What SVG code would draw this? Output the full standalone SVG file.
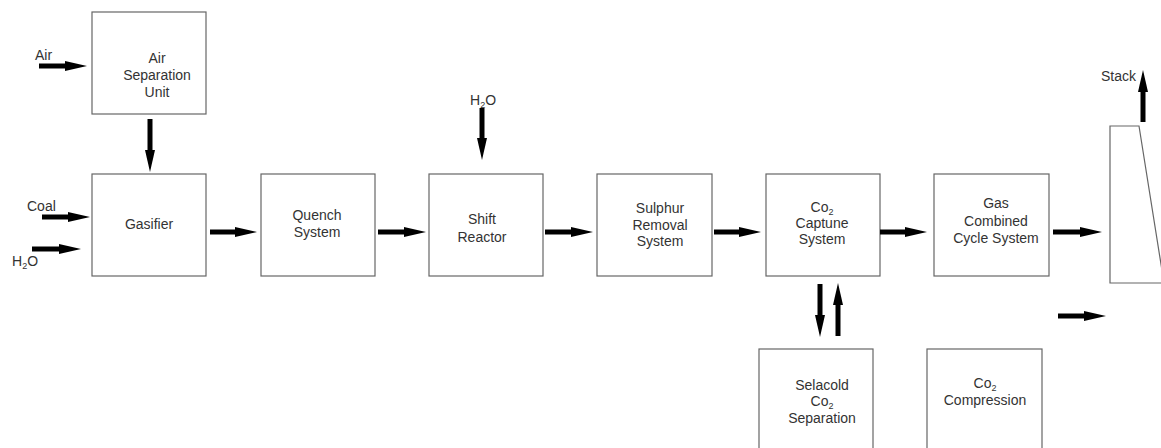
<svg xmlns="http://www.w3.org/2000/svg" width="1161" height="448" viewBox="0 0 1161 448">
<style>
  .box{fill:#fff;stroke:#666;stroke-width:1.2}
  text{font-family:"Liberation Sans",Arial,sans-serif;font-size:14px;fill:#333}
  .c{text-anchor:middle}
  .sub{font-size:9px}
  .arr{stroke:#000;stroke-width:5;fill:none;marker-end:url(#ah)}
</style>
<defs>
  <marker id="ah" markerUnits="userSpaceOnUse" markerWidth="22" markerHeight="10" refX="0" refY="5" orient="auto">
    <path d="M0,0 L22,5 L0,10 Z" fill="#000"/>
  </marker>
</defs>
<rect width="1161" height="448" fill="#fff"/>

<g id="asu">
  <rect class="box" x="92" y="12" width="114" height="102"/>
  <text class="c" x="157" y="63">Air</text>
  <text class="c" x="157" y="80">Separation</text>
  <text class="c" x="157" y="97">Unit</text>
</g>
<g id="gasifier">
  <rect class="box" x="92" y="174" width="114" height="102"/>
  <text class="c" x="149" y="229">Gasifier</text>
</g>
<g id="quench">
  <rect class="box" x="261" y="174" width="114" height="102"/>
  <text class="c" x="317" y="220">Quench</text>
  <text class="c" x="317" y="237">System</text>
</g>
<g id="shift">
  <rect class="box" x="429" y="174" width="114" height="102"/>
  <text class="c" x="482" y="224">Shift</text>
  <text class="c" x="482" y="242">Reactor</text>
</g>
<g id="sulphur">
  <rect class="box" x="597" y="174" width="115" height="102"/>
  <text class="c" x="660" y="213">Sulphur</text>
  <text class="c" x="660" y="230">Removal</text>
  <text class="c" x="660" y="246">System</text>
</g>
<g id="co2capture">
  <rect class="box" x="766" y="174" width="114" height="102"/>
  <text class="c" x="822" y="212">Co<tspan class="sub" dy="3">2</tspan></text>
  <text class="c" x="822" y="228">Captune</text>
  <text class="c" x="822" y="244">System</text>
</g>
<g id="gascc">
  <rect class="box" x="934" y="174" width="115" height="102"/>
  <text class="c" x="996" y="208">Gas</text>
  <text class="c" x="996" y="226">Combined</text>
  <text class="c" x="996" y="243">Cycle System</text>
</g>
<g id="selacold">
  <rect class="box" x="759" y="349" width="114" height="105"/>
  <text class="c" x="822" y="390">Selacold</text>
  <text class="c" x="822" y="406">Co<tspan class="sub" dy="3">2</tspan></text>
  <text class="c" x="822" y="423">Separation</text>
</g>
<g id="co2compression">
  <rect class="box" x="927" y="349" width="115" height="105"/>
  <text class="c" x="985" y="388">Co<tspan class="sub" dy="3">2</tspan></text>
  <text class="c" x="985" y="405">Compression</text>
</g>
<g id="stack">
  <polygon class="box" points="1110,126 1139,126 1164,283 1110,283"/>
</g>

<g id="labels">
  <text x="35" y="60">Air</text>
  <text x="27" y="211">Coal</text>
  <text x="12" y="266">H<tspan class="sub" dy="3">2</tspan><tspan dy="-3">O</tspan></text>
  <text x="470" y="105">H<tspan class="sub" dy="3">2</tspan><tspan dy="-3">O</tspan></text>
  <text x="1101" y="81">Stack</text>
</g>

<g id="connectors">
  <line class="arr" x1="39" y1="66" x2="65" y2="66"/>
  <line class="arr" x1="150" y1="119" x2="150" y2="150"/>
  <line class="arr" x1="42" y1="217" x2="68" y2="217"/>
  <line class="arr" x1="32" y1="249" x2="59" y2="249"/>
  <line class="arr" x1="210" y1="232" x2="235" y2="232"/>
  <line class="arr" x1="378" y1="232" x2="404" y2="232"/>
  <line class="arr" x1="482" y1="108" x2="482" y2="138"/>
  <line class="arr" x1="545" y1="232" x2="571" y2="232"/>
  <line class="arr" x1="714" y1="232" x2="739" y2="232"/>
  <line class="arr" x1="880" y1="232" x2="905" y2="232"/>
  <line class="arr" x1="820" y1="284" x2="820" y2="315"/>
  <line class="arr" x1="838" y1="336" x2="838" y2="305"/>
  <line class="arr" x1="1053" y1="232" x2="1080" y2="232"/>
  <line class="arr" x1="1143" y1="122" x2="1143" y2="92"/>
  <line class="arr" x1="1058" y1="316" x2="1084" y2="316"/>
</g>
</svg>
